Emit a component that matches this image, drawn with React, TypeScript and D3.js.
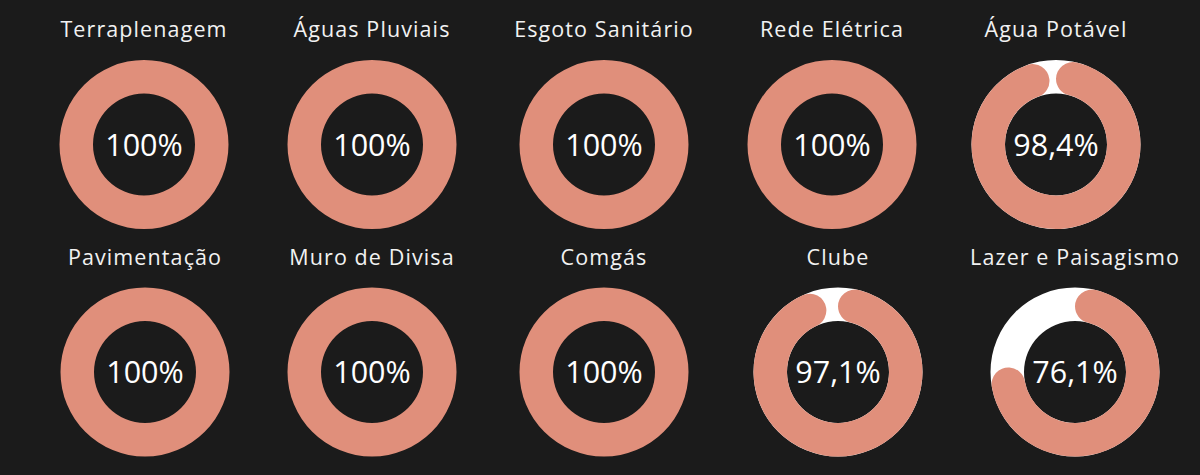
import React, { useEffect } from "react";
import * as d3 from "d3";

const categories = [
  "Terraplenagem",
  "Águas Pluviais",
  "Esgoto Sanitário",
  "Rede Elétrica",
  "Água Potável",
  "Pavimentação",
  "Muro de Divisa",
  "Comgás",
  "Clube",
  "Lazer e Paisagismo",
];
const values = [100, 100, 100, 100, 98.4, 100, 100, 100, 97.1, 76.1];

// layout (pixel centres of each donut)
const centersX = [144, 372, 604, 832, 1056, 145, 372, 604, 838, 1075];
const centersY = [144.5, 144.5, 144.5, 144.5, 144.5, 372, 372, 372, 372, 372];

const W = 1200;
const H = 475;
const OUTER = 84.5;
const INNER = 51;
const BG = "#1b1b1b";
const SALMON = "#e08f7b";

const fmt = (v: number) => (v >= 100 ? "100%" : v.toFixed(1).replace(".", ",") + "%");

export default function App() {
  useEffect(() => {
    document.body.style.margin = "0";
    document.body.style.background = BG;
  }, []);

  const angle = d3.scaleLinear().domain([0, 100]).range([0, 2 * Math.PI]);
  const ring = d3.arc<any>().innerRadius(INNER).outerRadius(OUTER);
  const rounded = d3
    .arc<any>()
    .innerRadius(INNER)
    .outerRadius(OUTER)
    .cornerRadius((OUTER - INNER) / 2);

  return (
    <svg width={W} height={H} style={{ display: "block", background: BG }}>
      <rect x={0} y={0} width={W} height={H} fill={BG} />
      {categories.map((name, i) => {
        const v = values[i];
        const cx = centersX[i];
        const cy = centersY[i];
        const full = v >= 100;
        return (
          <g key={name} transform={`translate(${cx},${cy})`}>
            <text
              x={0}
              y={-107.5}
              textAnchor="middle"
              fill="#f2f2f2"
              style={{ fontFamily: "'Open Sans', sans-serif", fontSize: 21.5, letterSpacing: 1.1 }}
            >
              {name}
            </text>
            <path
              d={ring({ startAngle: 0, endAngle: 2 * Math.PI }) || ""}
              fill={full ? SALMON : "#ffffff"}
            />
            {!full && (
              <path
                d={rounded({ startAngle: 0, endAngle: angle(v) }) || ""}
                fill={SALMON}
              />
            )}
            <text
              x={0}
              y={11}
              textAnchor="middle"
              fill="#ffffff"
              style={{ fontFamily: "'Open Sans', sans-serif", fontSize: 30.5 }}
            >
              {fmt(v)}
            </text>
          </g>
        );
      })}
    </svg>
  );
}
